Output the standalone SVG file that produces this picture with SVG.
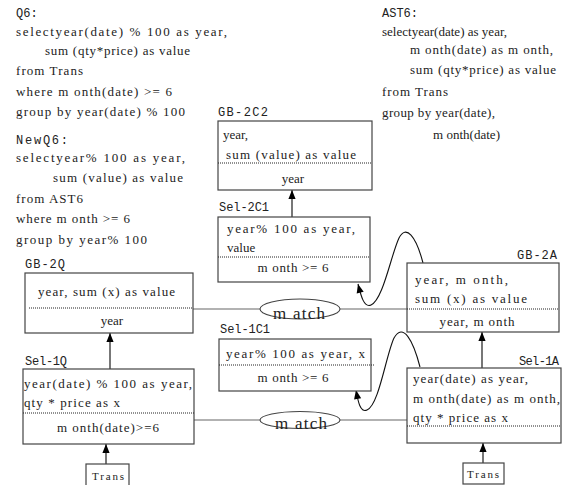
<svg xmlns="http://www.w3.org/2000/svg" width="571" height="485" viewBox="0 0 571 485">
  <style>
    .q { font-family: "Liberation Serif", "Times New Roman", serif; font-size: 13px; fill: #222; }
    .lbl { font-family: "Liberation Mono", "Courier New", monospace; font-size: 12px; fill: #222; }
    .c { text-anchor: middle; }
    .r { text-anchor: end; }
    .box { fill: #fff; stroke: #444; stroke-width: 1.2; }
    .sep { stroke: #222; stroke-width: 1; stroke-dasharray: 1 1; }
    .wire { fill: none; stroke: #666; stroke-width: 1.2; }
    .up { fill: none; stroke: #555; stroke-width: 1.6; marker-end: url(#head); }
    .loop { fill: none; stroke: #111; stroke-width: 1.1; marker-end: url(#head); }
    .m { font-family: "Liberation Serif", "Times New Roman", serif; font-size: 17px; fill: #222; text-anchor: middle; }
    .tr { font-family: "Liberation Serif", "Times New Roman", serif; font-size: 11px; fill: #222; text-anchor: middle; }
  </style>
  <defs>
    <marker id="head" viewBox="0 0 10 10" refX="10" refY="5" markerWidth="10" markerHeight="9" markerUnits="userSpaceOnUse" orient="auto">
      <path d="M0,1 L10,5 L0,9 Z" fill="#000"/>
    </marker>
  </defs>

  <!-- query texts -->
  <g id="q6">
    <text class="lbl" x="16" y="17">Q6:</text>
    <text class="q" x="16" y="36" textLength="211" lengthAdjust="spacing">selectyear(date) % 100 as year,</text>
    <text class="q" x="45" y="55" textLength="145" lengthAdjust="spacing">sum (qty*price) as value</text>
    <text class="q" x="16" y="75" textLength="67" lengthAdjust="spacing">from Trans</text>
    <text class="q" x="16" y="96" textLength="156" lengthAdjust="spacing">where m onth(date) &gt;= 6</text>
    <text class="q" x="16" y="116" textLength="169" lengthAdjust="spacing">group by year(date) % 100</text>
  </g>
  <g id="newq6">
    <text class="lbl" x="16" y="144" textLength="52" lengthAdjust="spacing">NewQ6:</text>
    <text class="q" x="16" y="162" textLength="169" lengthAdjust="spacing">selectyear% 100 as year,</text>
    <text class="q" x="53" y="182" textLength="130" lengthAdjust="spacing">sum (value) as value</text>
    <text class="q" x="16" y="203" textLength="67" lengthAdjust="spacing">from AST6</text>
    <text class="q" x="16" y="223" textLength="114" lengthAdjust="spacing">where m onth &gt;= 6</text>
    <text class="q" x="16" y="244" textLength="131" lengthAdjust="spacing">group by year% 100</text>
  </g>
  <g id="ast6">
    <text class="lbl" x="382" y="17">AST6:</text>
    <text class="q" x="382" y="36" textLength="125" lengthAdjust="spacing">selectyear(date) as year,</text>
    <text class="q" x="410" y="54" textLength="143" lengthAdjust="spacing">m onth(date) as m onth,</text>
    <text class="q" x="410" y="74" textLength="146" lengthAdjust="spacing">sum (qty*price) as value</text>
    <text class="q" x="382" y="96" textLength="66" lengthAdjust="spacing">from Trans</text>
    <text class="q" x="382" y="117" textLength="113" lengthAdjust="spacing">group by year(date),</text>
    <text class="q" x="433" y="139" textLength="67" lengthAdjust="spacing">m onth(date)</text>
  </g>

  <!-- connectors -->
  <g id="connectors">
    <line class="wire" x1="193" y1="309" x2="260" y2="309"/>
    <line class="wire" x1="340" y1="309" x2="407" y2="309"/>
    <line class="wire" x1="194" y1="420" x2="260" y2="420"/>
    <line class="wire" x1="340" y1="420" x2="407" y2="420"/>
    <line class="up" x1="292" y1="217" x2="292" y2="190"/>
    <line class="up" x1="110" y1="369" x2="110" y2="333"/>
    <line class="up" x1="106" y1="464" x2="106" y2="444"/>
    <line class="up" x1="482" y1="368" x2="482" y2="332"/>
    <line class="up" x1="483" y1="463" x2="483" y2="443"/>
    <path class="loop" d="M423,263 C416,236 406,224 399,238 C391,255 383,300 371,305 C364,308 361,296 358,284"/>
    <path class="loop" d="M420,367 C413,340 403,322 394,338 C386,355 379,405 367,410 C360,413 358,401 356,390"/>
  </g>

  <!-- match nodes -->
  <g id="match1">
    <ellipse cx="300" cy="309" rx="40" ry="10" fill="#fff" stroke="#444" stroke-width="1.1"/>
    <text class="m" x="299" y="319" textLength="52" lengthAdjust="spacing">m atch</text>
  </g>
  <g id="match2">
    <ellipse cx="300" cy="420" rx="40" ry="8.5" fill="#fff" stroke="#444" stroke-width="1.1"/>
    <text class="m" x="301" y="429" textLength="52" lengthAdjust="spacing">m atch</text>
  </g>

  <!-- operator nodes -->
  <g id="gb-2c2">
    <text class="lbl" x="218" y="116" textLength="50" lengthAdjust="spacing">GB-2C2</text>
    <rect class="box" x="218" y="121" width="154" height="69"/>
    <text class="q" x="223" y="139">year,</text>
    <text class="q" x="226" y="159" textLength="130" lengthAdjust="spacing">sum (value) as value</text>
    <line class="sep" x1="218" y1="163" x2="372" y2="163"/>
    <text class="q c" x="293" y="183">year</text>
  </g>
  <g id="sel-2c1">
    <text class="lbl" x="219" y="211" textLength="50" lengthAdjust="spacing">Sel-2C1</text>
    <rect class="box" x="218" y="217" width="152" height="65"/>
    <text class="q" x="227" y="233" textLength="128" lengthAdjust="spacing">year% 100 as year,</text>
    <text class="q" x="227" y="252">value</text>
    <line class="sep" x1="218" y1="257" x2="370" y2="257"/>
    <text class="q c" x="293" y="272" textLength="71" lengthAdjust="spacing">m onth &gt;= 6</text>
  </g>
  <g id="gb-2q">
    <text class="lbl" x="25" y="268" textLength="40" lengthAdjust="spacing">GB-2Q</text>
    <rect class="box" x="25" y="273" width="168" height="60"/>
    <text class="q" x="38" y="296" textLength="137" lengthAdjust="spacing">year, sum (x) as value</text>
    <line class="sep" x1="29" y1="308" x2="193" y2="308"/>
    <text class="q c" x="112" y="325">year</text>
  </g>
  <g id="sel-1c1">
    <text class="lbl" x="220" y="333" textLength="50" lengthAdjust="spacing">Sel-1C1</text>
    <rect class="box" x="219" y="339" width="152" height="52"/>
    <text class="q" x="226" y="358" textLength="139" lengthAdjust="spacing">year% 100 as year, x</text>
    <line class="sep" x1="219" y1="365" x2="375" y2="365"/>
    <text class="q c" x="293" y="382" textLength="71" lengthAdjust="spacing">m onth &gt;= 6</text>
  </g>
  <g id="gb-2a">
    <text class="lbl r" x="557" y="259" textLength="40" lengthAdjust="spacing">GB-2A</text>
    <rect class="box" x="407" y="263" width="152" height="69"/>
    <text class="q" x="415" y="284" textLength="93" lengthAdjust="spacing">year, m onth,</text>
    <text class="q" x="415" y="303" textLength="112" lengthAdjust="spacing">sum (x) as value</text>
    <line class="sep" x1="407" y1="309" x2="559" y2="309"/>
    <text class="q c" x="477" y="326" textLength="75" lengthAdjust="spacing">year, m onth</text>
  </g>
  <g id="sel-1q">
    <text class="lbl" x="25" y="365" textLength="42" lengthAdjust="spacing">Sel-1Q</text>
    <rect class="box" x="23" y="369" width="171" height="75"/>
    <text class="q" x="24" y="388" textLength="168" lengthAdjust="spacing">year(date) % 100 as year,</text>
    <text class="q" x="24" y="407" textLength="96" lengthAdjust="spacing">qty * price as x</text>
    <line class="sep" x1="23" y1="413" x2="194" y2="413"/>
    <text class="q c" x="108" y="432" textLength="102" lengthAdjust="spacing">m onth(date)&gt;=6</text>
  </g>
  <g id="sel-1a">
    <text class="lbl r" x="559" y="365" textLength="40" lengthAdjust="spacing">Sel-1A</text>
    <rect class="box" x="407" y="368" width="154" height="75"/>
    <text class="q" x="413" y="383" textLength="115" lengthAdjust="spacing">year(date) as year,</text>
    <text class="q" x="413" y="403" textLength="147" lengthAdjust="spacing">m onth(date) as m onth,</text>
    <text class="q" x="413" y="422" textLength="95" lengthAdjust="spacing">qty * price as x</text>
    <line class="sep" x1="407" y1="426" x2="561" y2="426"/>
  </g>
  <g id="trans-q">
    <rect class="box" x="86" y="464" width="43" height="24"/>
    <text class="tr" x="108" y="480" textLength="32" lengthAdjust="spacing">Trans</text>
  </g>
  <g id="trans-a">
    <rect class="box" x="463" y="463" width="41" height="21"/>
    <text class="tr" x="483" y="478" textLength="32" lengthAdjust="spacing">Trans</text>
  </g>
</svg>
